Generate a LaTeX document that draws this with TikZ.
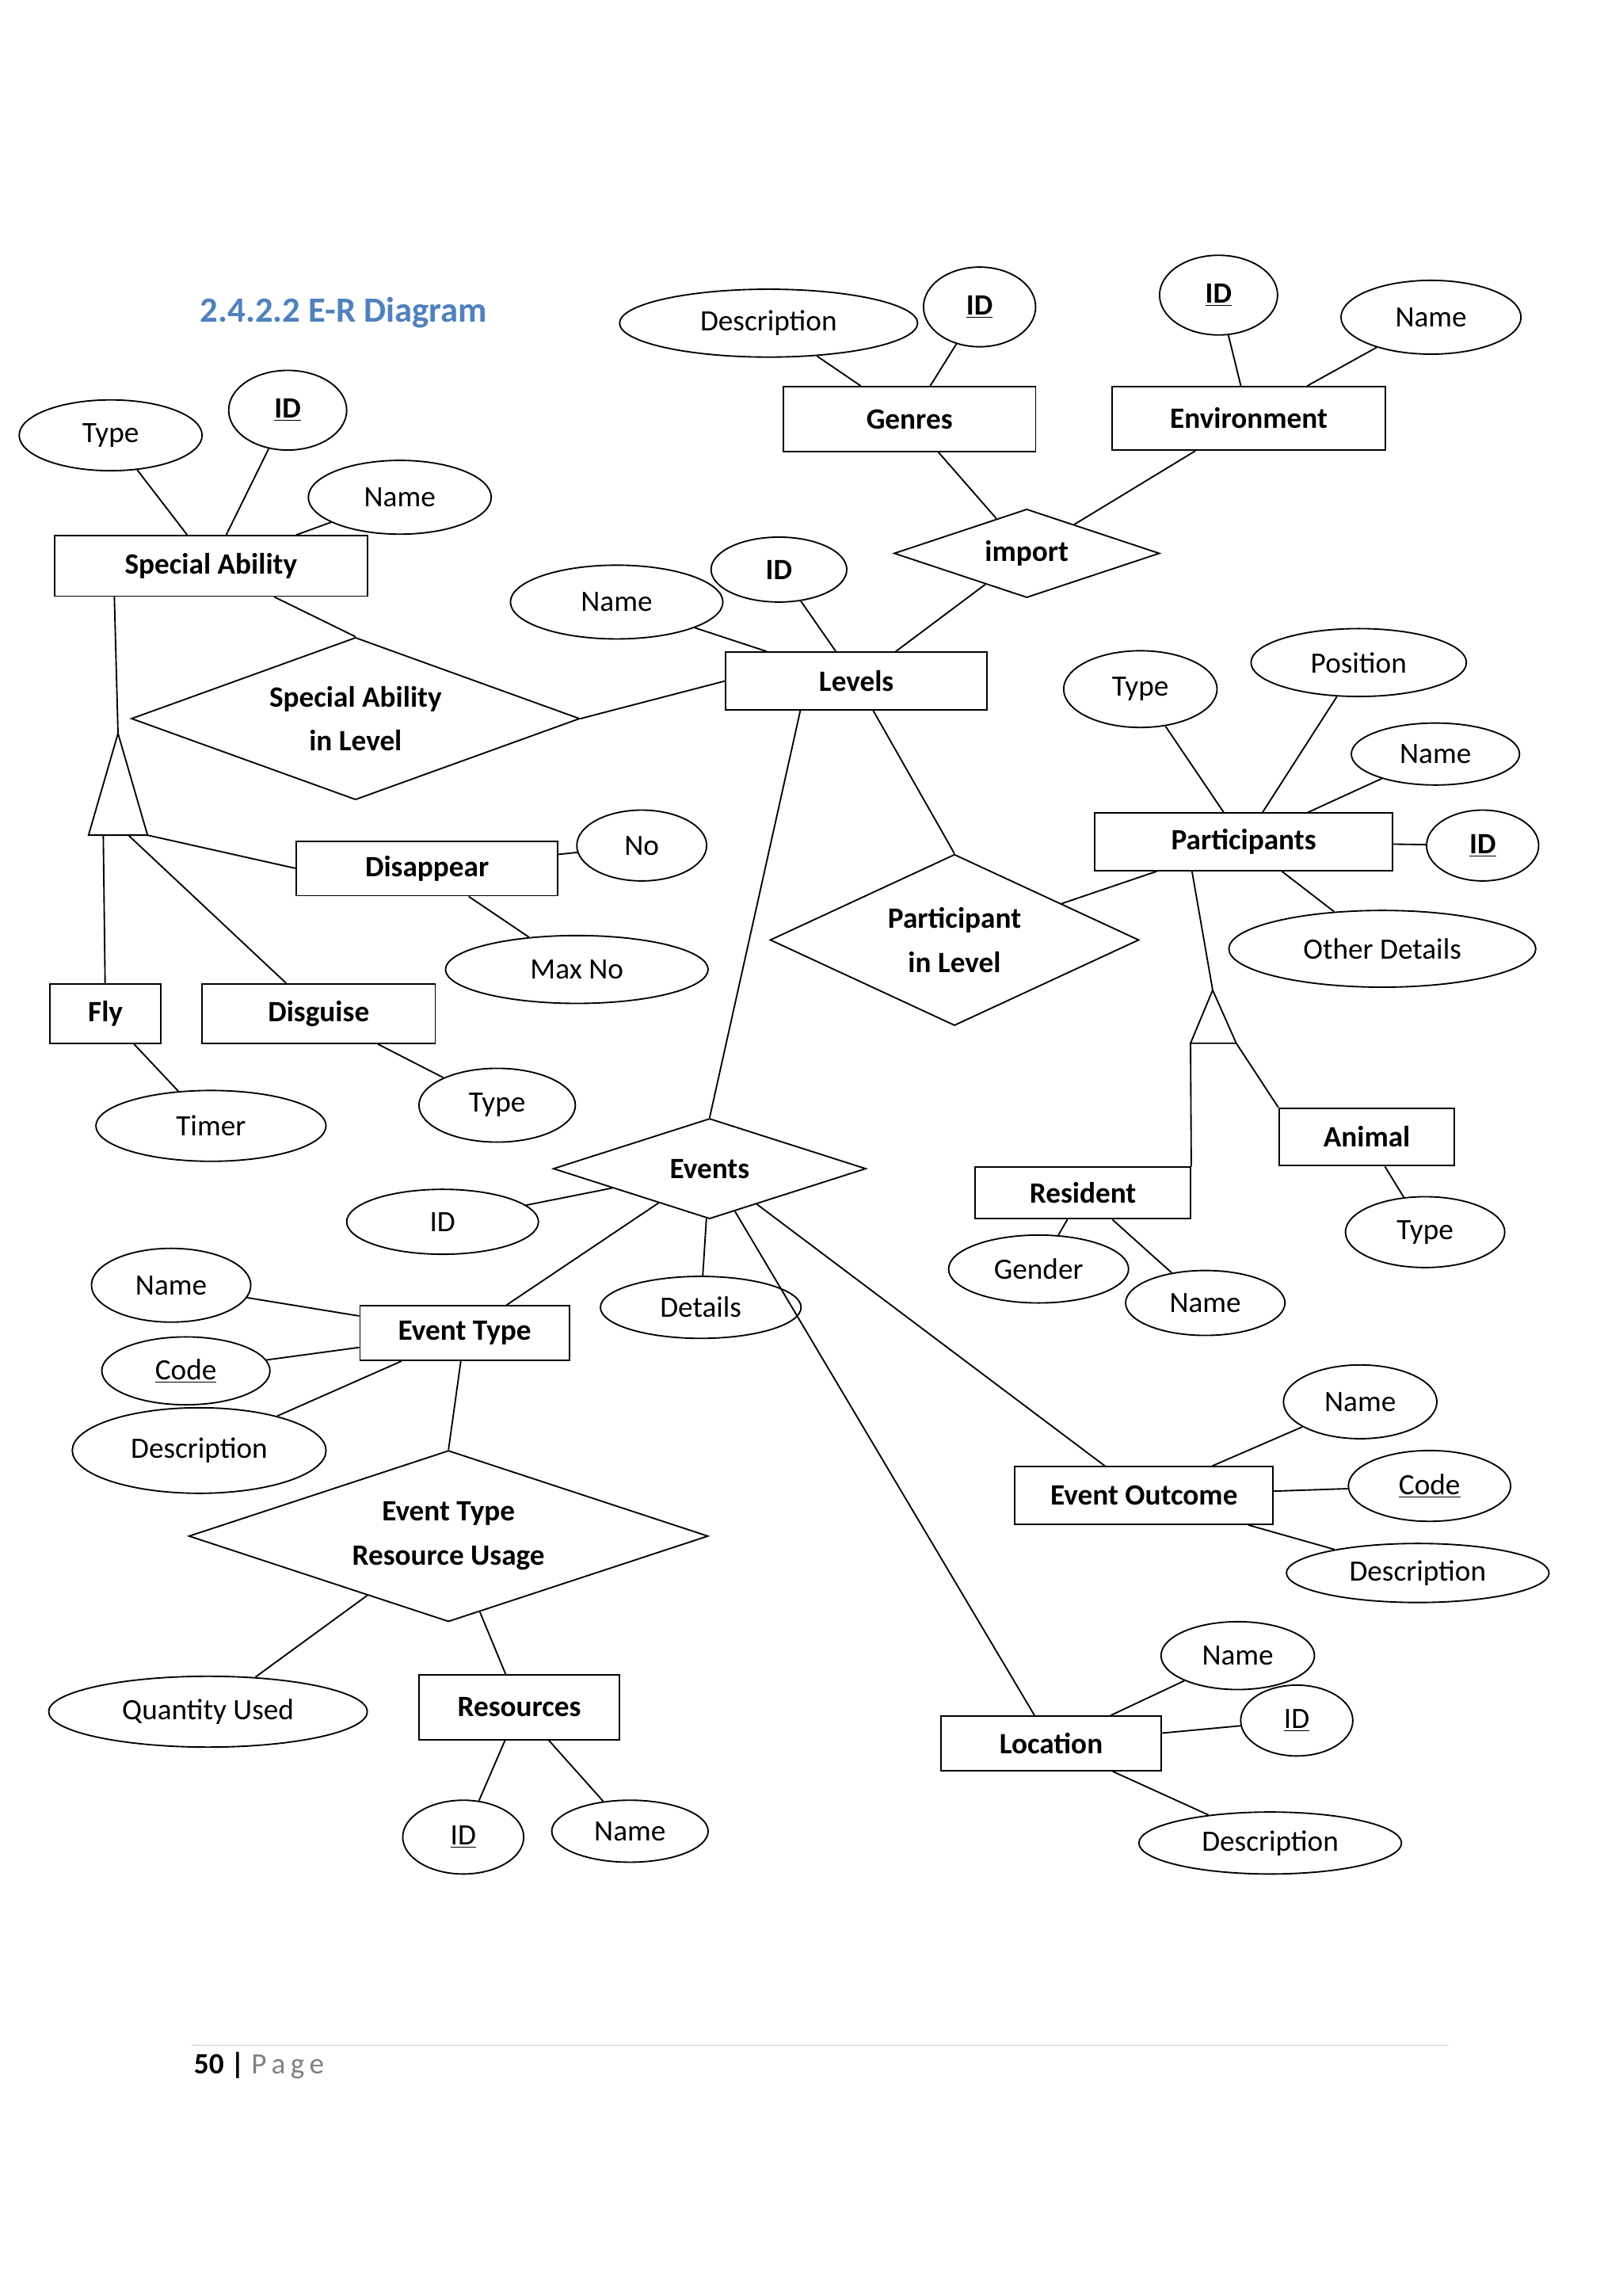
\documentclass[tikz,border=0pt]{standalone}
\usepackage{fontspec}
\setmainfont{Carlito}
\usetikzlibrary{shapes.geometric}
\definecolor{titleblue}{RGB}{79,129,189}
\tikzset{
 attr/.style={draw,ellipse,inner sep=0pt,line width=1pt,font=\fontsize{20}{24}\selectfont},
 ent/.style={draw,rectangle,inner sep=0pt,line width=1pt,font=\fontsize{20}{24}\selectfont\bfseries},
 rel/.style={draw,diamond,inner sep=0pt,line width=1pt,align=center,font=\fontsize{20}{30}\selectfont\bfseries},
 conn/.style={line width=1pt}
}
\newcommand{\ul}[1]{\underline{#1}}
\begin{document}
\begin{tikzpicture}[x=1pt,y=-1pt]
\useasboundingbox[fill=white] (0,0) rectangle (1100,1556);
\node[font=\fontsize{24}{28}\selectfont\bfseries,text=titleblue] (title) at (233,212) {2.4.2.2 E-R Diagram};
% entities
\node[ent,minimum width=171,minimum height=44] (genres) at (616.5,284) {Genres};
\node[ent,minimum width=185,minimum height=43] (env) at (846.5,283.5) {Environment};
\node[ent,minimum width=212,minimum height=41] (sa) at (143,383.5) {Special Ability};
\node[ent,minimum width=177,minimum height=39] (levels) at (580.5,461.5) {Levels};
\node[ent,minimum width=177,minimum height=37] (dis) at (289.5,588.5) {Disappear};
\node[ent,minimum width=75,minimum height=40] (fly) at (71.5,687) {Fly};
\node[ent,minimum width=158,minimum height=40] (dsg) at (216,687) {Disguise};
\node[ent,minimum width=202,minimum height=39] (part) at (843,570.5) {Participants};
\node[ent,minimum width=119,minimum height=39] (animal) at (926.5,770.5) {Animal};
\node[ent,minimum width=146,minimum height=35] (res) at (734,808.5) {Resident};
\node[ent,minimum width=142,minimum height=37] (et) at (315,903.5) {Event Type};
\node[ent,minimum width=136,minimum height=44] (rsc) at (352,1157) {Resources};
\node[ent,minimum width=175,minimum height=39] (eo) at (775.5,1013.5) {Event Outcome};
\node[ent,minimum width=149,minimum height=37] (loc) at (712.5,1181.5) {Location};
% relationships
\node[rel,aspect=3,minimum width=180,minimum height=60] (imp) at (696,375) {import};
\node[rel,aspect=2.76,minimum width=304,minimum height=110] (sail) at (241,487) {Special Ability\\in Level};
\node[rel,aspect=2.15,minimum width=250,minimum height=116] (pil) at (647,637) {Participant\\in Level};
\node[rel,aspect=3.1,minimum width=212,minimum height=68] (ev) at (481,792) {Events};
\node[rel,aspect=3,minimum width=352,minimum height=116] (etru) at (304,1041) {Event Type\\Resource Usage};
% attributes
\node[attr,minimum width=202,minimum height=46] (gdesc) at (521,219) {Description};
\node[attr,minimum width=76,minimum height=54,font=\fontsize{20}{24}\selectfont\bfseries] (gid) at (664,208) {\ul{ID}};
\node[attr,minimum width=80,minimum height=54,font=\fontsize{20}{24}\selectfont\bfseries] (eid) at (826,200) {\ul{ID}};
\node[attr,minimum width=122,minimum height=50] (ename) at (970,215) {Name};
\node[attr,minimum width=124,minimum height=48] (satype) at (75,295) {Type};
\node[attr,minimum width=80,minimum height=54,font=\fontsize{20}{24}\selectfont\bfseries] (said) at (195,278) {\ul{ID}};
\node[attr,minimum width=124,minimum height=50] (saname) at (271,337) {Name};
\node[attr,minimum width=144,minimum height=50] (lname) at (418,408) {Name};
\node[attr,minimum width=92,minimum height=44,font=\fontsize{20}{24}\selectfont\bfseries] (lid) at (528,386) {ID};
\node[attr,minimum width=88,minimum height=48] (no) at (435,573) {No};
\node[attr,minimum width=178,minimum height=46] (maxno) at (391,657) {Max No};
\node[attr,minimum width=156,minimum height=48] (timer) at (143,763) {Timer};
\node[attr,minimum width=106,minimum height=50] (dtype) at (337,749) {Type};
\node[attr,minimum width=104,minimum height=52] (ptype) at (773,467) {Type};
\node[attr,minimum width=146,minimum height=46] (ppos) at (921,449) {Position};
\node[attr,minimum width=114,minimum height=42] (pname) at (973,511) {Name};
\node[attr,minimum width=76,minimum height=48,font=\fontsize{20}{24}\selectfont\bfseries] (pid) at (1005,573) {\ul{ID}};
\node[attr,minimum width=208,minimum height=52] (pod) at (937,643) {Other Details};
\node[attr,minimum width=108,minimum height=48] (atype) at (966,835) {Type};
\node[attr,minimum width=122,minimum height=46] (rgender) at (704,860) {Gender};
\node[attr,minimum width=108,minimum height=44] (rname) at (817,883) {Name};
\node[attr,minimum width=130,minimum height=44] (evid) at (300,828) {ID};
\node[attr,minimum width=136,minimum height=42] (evdet) at (475,886) {Details};
\node[attr,minimum width=108,minimum height=50] (etname) at (116,871) {Name};
\node[attr,minimum width=114,minimum height=46] (etcode) at (126,929) {\ul{Code}};
\node[attr,minimum width=172,minimum height=58] (etdesc) at (135,983) {Description};
\node[attr,minimum width=216,minimum height=48] (qty) at (141,1160) {Quantity Used};
\node[attr,minimum width=82,minimum height=50] (rid) at (314,1245) {\ul{ID}};
\node[attr,minimum width=106,minimum height=42] (rsname) at (427,1241) {Name};
\node[attr,minimum width=104,minimum height=50] (eoname) at (922,950) {Name};
\node[attr,minimum width=110,minimum height=48] (eocode) at (969,1007) {\ul{Code}};
\node[attr,minimum width=178,minimum height=40] (eodesc) at (961,1066) {Description};
\node[attr,minimum width=104,minimum height=46] (lcname) at (839,1122) {Name};
\node[attr,minimum width=76,minimum height=48] (lcid) at (879,1166) {\ul{ID}};
\node[attr,minimum width=178,minimum height=42] (lcdesc) at (861,1249) {Description};
% triangles
\coordinate (t1a) at (80,497); \coordinate (t1l) at (60,566); \coordinate (t1r) at (100,566);
\draw[conn] (t1a) -- (t1l) -- (t1r) -- cycle;
\coordinate (t2a) at (822,671); \coordinate (t2l) at (807,707); \coordinate (t2r) at (838,707);
\draw[conn] (t2a) -- (t2l) -- (t2r) -- cycle;
% connectors
\draw[conn] (gdesc) -- (genres); \draw[conn] (gid) -- (genres);
\draw[conn] (eid) -- (env); \draw[conn] (ename) -- (env);
\draw[conn] (genres) -- (imp); \draw[conn] (env) -- (imp); \draw[conn] (imp) -- (levels);
\draw[conn] (satype) -- (sa); \draw[conn] (said) -- (sa); \draw[conn] (saname) -- (sa);
\draw[conn] (sa) -- (sail.north); \draw[conn] (sail.east) -- (levels.west);
\draw[conn] (lname) -- (levels); \draw[conn] (lid) -- (levels);
\draw[conn] (sa.south west)++(41,0) -- (t1a);
\draw[conn] (70,566) -- (fly);
\draw[conn] (87,566) -- (dsg);
\draw[conn] (t1r) -- (dis.west);
\draw[conn] (dis) -- (no); \draw[conn] (dis) -- (maxno);
\draw[conn] (fly) -- (timer); \draw[conn] (dsg) -- (dtype);
\draw[conn] (levels) -- (pil.north); \draw[conn] (pil) -- (part);
\draw[conn] (levels.south)++(-38,0) -- (ev.north);
\draw[conn] (ptype) -- (part); \draw[conn] (ppos) -- (part); \draw[conn] (pname) -- (part);
\draw[conn] (pid) -- (part); \draw[conn] (pod) -- (part);
\draw[conn] (part.south)++(-35,0) -- (t2a);
\draw[conn] (t2l) -- (res.north east)++(-55,0);
\draw[conn] (838,707) -- (animal.north west)++(35,0);
\draw[conn] (animal) -- (atype); \draw[conn] (res) -- (rgender); \draw[conn] (res) -- (rname);
\draw[conn] (ev) -- (evid); \draw[conn] (ev) -- (evdet);
\draw[conn] (ev) -- (et); \draw[conn] (ev) -- (eo); \draw[conn] (ev) -- (loc);
\draw[conn] (etname) -- (et); \draw[conn] (etcode) -- (et); \draw[conn] (etdesc) -- (et);
\draw[conn] (et) -- (etru.north);
\draw[conn] (etru) -- (qty); \draw[conn] (etru) -- (rsc);
\draw[conn] (rsc) -- (rid); \draw[conn] (rsc) -- (rsname);
\draw[conn] (eo) -- (eoname); \draw[conn] (eo) -- (eocode); \draw[conn] (eo) -- (eodesc);
\draw[conn] (loc) -- (lcname); \draw[conn] (loc) -- (lcid); \draw[conn] (loc) -- (lcdesc);
% footer
\coordinate (f1) at (130,1386); \coordinate (f2) at (982,1386);
\draw[gray!40,line width=0.8pt] (f1) -- (f2);
\node[anchor=west,font=\fontsize{20}{24}\selectfont] (pg) at (128,1400) {\textbf{50 |} \textcolor{gray}{P\,a\,g\,e}};
\end{tikzpicture}
\end{document}
